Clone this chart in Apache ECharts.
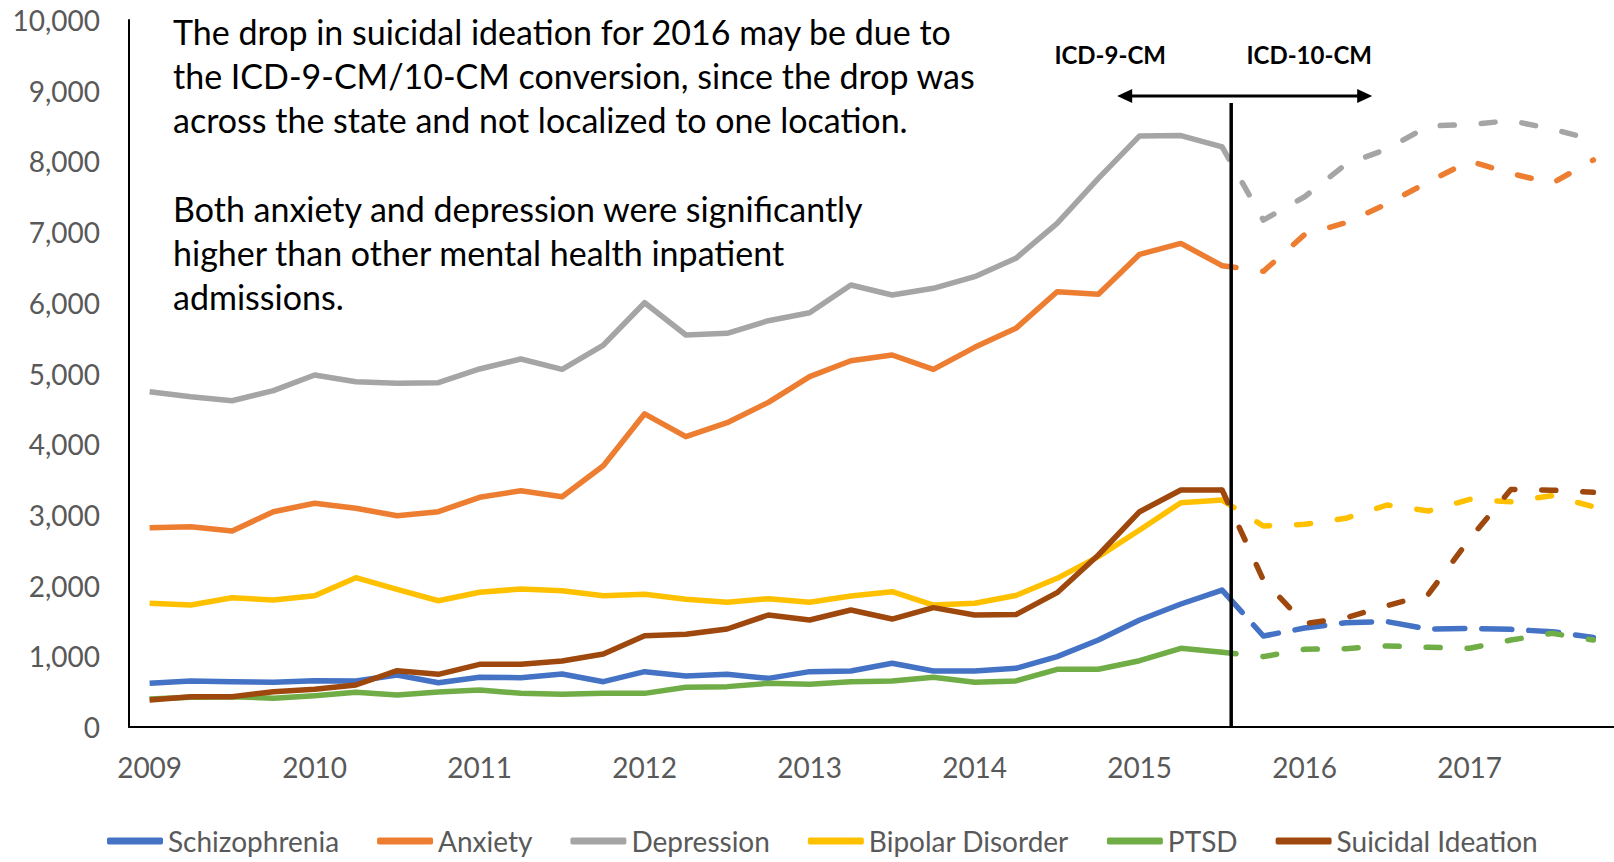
<!DOCTYPE html>
<html>
<head>
<meta charset="utf-8">
<title>Mental health inpatient admissions by quarter</title>
<script src="https://cdn.jsdelivr.net/npm/echarts@6/dist/echarts.min.js"></script>
<style>
    html, body { margin: 0; padding: 0; background: #fff; }
    #chart { width: 1614px; height: 862px; }
</style>
</head>
<body>
<div id="chart"></div>
<script>
var years = ['2009', '2010', '2011', '2012', '2013', '2014', '2015', '2016', '2017'];
var quarters = [];
years.forEach(function (y) {
    for (var q = 1; q <= 4; q++) quarters.push(y + ' Q' + q);
});

// 2009 Q1 .. 2017 Q4
var schizophrenia = [618, 651, 641, 632, 655, 651, 735, 627, 703, 698, 750, 641,
    783, 721, 745, 688, 783, 792, 901, 792, 792, 830, 995, 1230,
    1513, 1740, 1937, 1287, 1400, 1475, 1490, 1384, 1395, 1381, 1348, 1268];
var anxiety = [2819, 2833, 2772, 3045, 3164, 3093, 2989, 3045, 3249, 3342, 3257, 3696,
    4430, 4106, 4304, 4592, 4955, 5181, 5262, 5059, 5370, 5639, 6157, 6120,
    6686, 6840, 6525, 6445, 6965, 7133, 7400, 7710, 8005, 7830, 7690, 8020];
var depression = [4743, 4672, 4615, 4757, 4979, 4884, 4861, 4870, 5064, 5205, 5059, 5403,
    6001, 5545, 5568, 5747, 5860, 6252, 6110, 6205, 6369, 6629, 7124, 7760,
    8360, 8365, 8205, 7170, 7500, 7959, 8176, 8501, 8522, 8576, 8458, 8303];
var bipolar = [1750, 1726, 1829, 1796, 1857, 2112, 1948, 1786, 1905, 1952, 1928, 1857,
    1877, 1806, 1764, 1815, 1764, 1853, 1914, 1725, 1750, 1860, 2103, 2410,
    2786, 3173, 3210, 2843, 2867, 2952, 3140, 3055, 3220, 3187, 3272, 3116];
var ptsd = [396, 420, 429, 406, 443, 491, 453, 496, 523, 476, 462, 476,
    476, 561, 571, 618, 604, 641, 651, 703, 632, 651, 816, 816,
    938, 1113, 1056, 995, 1099, 1108, 1146, 1127, 1113, 1230, 1325, 1230];
var suicidal = [382, 429, 429, 499, 533, 594, 797, 745, 886, 886, 933, 1032,
    1292, 1311, 1386, 1584, 1513, 1655, 1527, 1688, 1584, 1590, 1900, 2433,
    3045, 3352, 3352, 2080, 1460, 1545, 1716, 1877, 2660, 3360, 3350, 3320];

var splitIndex = 26; // 2015 Q3, last quarter coded in ICD-9-CM

var font = 'Lato, "Open Sans", sans-serif';
var grayText = '#595959';

var groups = [
    { name: 'Schizophrenia', data: schizophrenia, color: '#4472C4', dash: [30, 17] },
    { name: 'Anxiety', data: anxiety, color: '#ED7D31', dash: [14, 27] },
    { name: 'Depression', data: depression, color: '#A5A5A5', dash: [14, 27] },
    { name: 'Bipolar Disorder', data: bipolar, color: '#FFC000', dash: [14, 27] },
    { name: 'PTSD', data: ptsd, color: '#70AD47', dash: [14, 27] },
    { name: 'Suicidal Ideation', data: suicidal, color: '#9E480E', dash: [14, 27] }
];

function solidPart(list) {
    return list.map(function (v, i) { return i <= splitIndex ? v : null; });
}
function dashedPart(list) {
    return list.map(function (v, i) { return i >= splitIndex ? v : null; });
}

var series = [];
groups.forEach(function (g) {
    series.push({
        name: g.name,
        type: 'line',
        data: solidPart(g.data),
        showSymbol: false,
        symbol: 'none',
        color: g.color,
        lineStyle: { width: 5.5, color: g.color, join: 'round' },
        animation: false
    });
});
groups.forEach(function (g) {
    series.push({
        name: g.name + ' (ICD-10-CM)',
        type: 'line',
        data: dashedPart(g.data),
        showSymbol: false,
        symbol: 'none',
        color: g.color,
        lineStyle: { width: 5.5, color: g.color, type: g.dash, cap: 'round', join: 'round' },
        animation: false
    });
});

var chart = echarts.init(document.getElementById('chart'), null, { renderer: 'svg' });

var option = {
    backgroundColor: '#fff',
    animation: false,
    grid: { left: 129, right: 0, top: 20, bottom: 135, containLabel: false },
    legend: {
        data: groups.map(function (g) { return { name: g.name, icon: 'roundRect' }; }),
        left: 102,
        top: 822,
        itemWidth: 56,
        itemHeight: 7,
        itemGap: 38,
        textStyle: { color: grayText, fontSize: 28, fontFamily: font }
    },
    xAxis: {
        type: 'category',
        data: quarters,
        boundaryGap: true,
        axisLine: { show: true, lineStyle: { color: '#000', width: 2 } },
        axisTick: { show: false },
        axisLabel: {
            interval: 3,
            margin: 26,
            color: grayText,
            fontSize: 28,
            fontFamily: font,
            formatter: function (v) { return v.slice(0, 4); }
        },
        splitLine: { show: false }
    },
    yAxis: {
        type: 'value',
        min: 0,
        max: 10000,
        interval: 1000,
        axisLine: { show: true, lineStyle: { color: '#000', width: 2 } },
        axisTick: { show: false },
        splitLine: { show: false },
        axisLabel: {
            margin: 29,
            color: grayText,
            fontSize: 28,
            fontFamily: font,
            formatter: function (v) { return v.toLocaleString('en-US'); }
        }
    },
    series: series
};

chart.setOption(option);

// annotations: ICD-9-CM / ICD-10-CM boundary
var xa = chart.convertToPixel({ xAxisIndex: 0 }, quarters[splitIndex]);
var xb = chart.convertToPixel({ xAxisIndex: 0 }, quarters[splitIndex + 1]);
var lineX = xa + 0.22 * (xb - xa);
var yBottom = chart.convertToPixel({ yAxisIndex: 0 }, 0);
var arrowY = 96;
var arrowL = lineX - 114;
var arrowR = lineX + 141;

chart.setOption({
    graphic: [
        {
            type: 'line',
            shape: { x1: lineX, y1: 103, x2: lineX, y2: yBottom },
            style: { stroke: '#000', lineWidth: 3.5 },
            z: 10
        },
        {
            type: 'line',
            shape: { x1: arrowL + 10, y1: arrowY, x2: arrowR - 10, y2: arrowY },
            style: { stroke: '#000', lineWidth: 3 },
            z: 10
        },
        {
            type: 'polygon',
            shape: { points: [[arrowL, arrowY], [arrowL + 15, arrowY - 7], [arrowL + 15, arrowY + 7]] },
            style: { fill: '#000' },
            z: 10
        },
        {
            type: 'polygon',
            shape: { points: [[arrowR, arrowY], [arrowR - 15, arrowY - 7], [arrowR - 15, arrowY + 7]] },
            style: { fill: '#000' },
            z: 10
        },
        {
            type: 'text',
            style: {
                text: 'ICD-9-CM', x: lineX - 121, y: 54,
                align: 'center', verticalAlign: 'middle',
                fill: '#000', fontSize: 24, fontWeight: 'bold', fontFamily: font
            },
            z: 10
        },
        {
            type: 'text',
            style: {
                text: 'ICD-10-CM', x: lineX + 78, y: 54,
                align: 'center', verticalAlign: 'middle',
                fill: '#000', fontSize: 24, fontWeight: 'bold', fontFamily: font
            },
            z: 10
        },
        {
            type: 'text',
            style: {
                text: 'The drop in suicidal ideation for 2016 may be due to\n' +
                    'the ICD-9-CM/10-CM conversion, since the drop was\n' +
                    'across the state and not localized to one location.\n' +
                    '\n' +
                    'Both anxiety and depression were significantly\n' +
                    'higher than other mental health inpatient\n' +
                    'admissions.',
                x: 173, y: 9,
                align: 'left', verticalAlign: 'top',
                lineHeight: 44.3,
                fill: '#000', fontSize: 34, fontFamily: font
            },
            z: 10
        }
    ]
});
</script>
</body>
</html>
